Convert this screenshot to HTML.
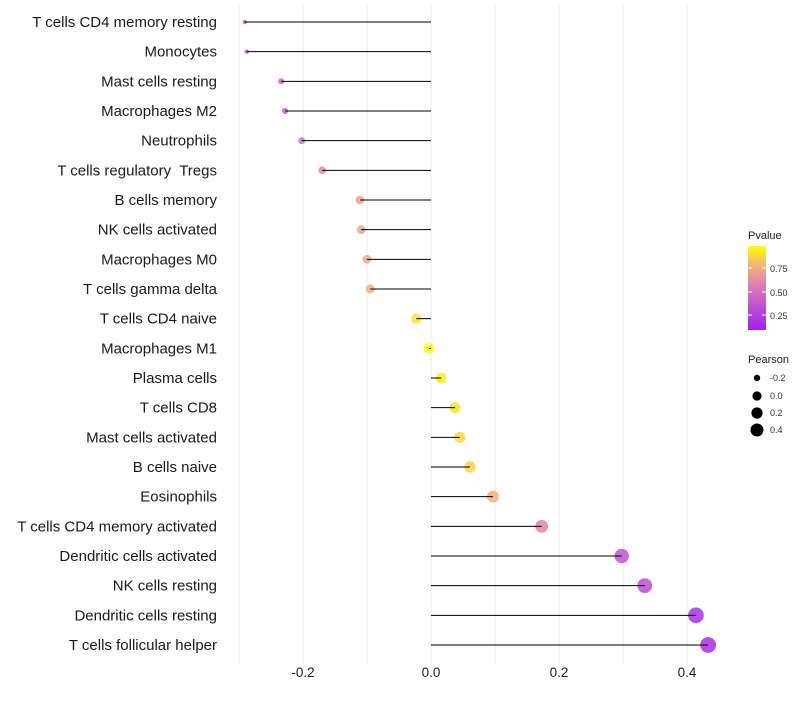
<!DOCTYPE html>
<html><head><meta charset="utf-8"><style>
body{margin:0;background:#fff;}
svg text{font-family:"Liberation Sans",sans-serif;white-space:pre;}
</style></head><body>
<svg id="chart" width="800" height="700" xmlns="http://www.w3.org/2000/svg">
<defs><linearGradient id="pg" x1="0" y1="1" x2="0" y2="0">
<stop offset="0" stop-color="#a020f0"/><stop offset="0.5" stop-color="#d878b8"/><stop offset="0.75" stop-color="#f0b080"/><stop offset="1" stop-color="#ffff00"/></linearGradient></defs>
<g id="grid"></g>
<g id="marks"></g>
<g id="ylab"></g>
<g id="xlab"></g>
<g>
<text x="748" y="239" font-size="11" fill="#222">Pvalue</text>
<rect x="748" y="246" width="18" height="84" fill="url(#pg)"/>
<line x1="748" y1="268" x2="752" y2="268" stroke="#fff"/><line x1="762" y1="268" x2="766" y2="268" stroke="#fff"/>
<line x1="748" y1="292" x2="752" y2="292" stroke="#fff"/><line x1="762" y1="292" x2="766" y2="292" stroke="#fff"/>
<line x1="748" y1="315" x2="752" y2="315" stroke="#fff"/><line x1="762" y1="315" x2="766" y2="315" stroke="#fff"/>
<text x="770" y="272" font-size="9" fill="#333">0.75</text>
<text x="770" y="296" font-size="9" fill="#333">0.50</text>
<text x="770" y="319" font-size="9" fill="#333">0.25</text>
</g>
<g>
<text x="748" y="363" font-size="11" fill="#222">Pearson</text>
<circle cx="757" cy="378" r="3.2" fill="#000"/><text x="770" y="381" font-size="9" fill="#333">-0.2</text>
<circle cx="757" cy="396" r="4.6" fill="#000"/><text x="770" y="399" font-size="9" fill="#333">0.0</text>
<circle cx="757" cy="413" r="5.6" fill="#000"/><text x="770" y="416" font-size="9" fill="#333">0.2</text>
<circle cx="757" cy="430" r="6.5" fill="#000"/><text x="770" y="433" font-size="9" fill="#333">0.4</text>
</g>
</svg>
<script>
const categories=["T cells CD4 memory resting","Monocytes","Mast cells resting","Macrophages M2","Neutrophils","T cells regulatory  Tregs","B cells memory","NK cells activated","Macrophages M0","T cells gamma delta","T cells CD4 naive","Macrophages M1","Plasma cells","T cells CD8","Mast cells activated","B cells naive","Eosinophils","T cells CD4 memory activated","Dendritic cells activated","NK cells resting","Dendritic cells resting","T cells follicular helper"];
const pearson=[-0.291,-0.288,-0.234,-0.228,-0.202,-0.170,-0.111,-0.109,-0.100,-0.095,-0.023,-0.003,0.016,0.0375,0.045,0.061,0.097,0.173,0.298,0.334,0.414,0.433];
const pvalues=[0.3,0.3,0.4,0.4,0.45,0.58,0.72,0.72,0.75,0.76,0.92,0.99,0.95,0.9,0.88,0.86,0.76,0.56,0.3,0.25,0.1,0.08];
const xTicks=[-0.2,0,0.2,0.4];
const xTickLabels=["-0.2","0.0","0.2","0.4"];
const gridVals=[-0.3,-0.2,-0.1,0,0.1,0.2,0.3,0.4];
const NS="http://www.w3.org/2000/svg";
const xs=v=>431+v*640;
const ys=i=>22+i*(623/21);
const rs=v=>Math.sqrt(Math.max(2.5,28+80*v));
function col(p){const st=[[0,[160,32,240]],[0.5,[216,120,184]],[0.75,[240,176,128]],[1,[255,255,0]]];
for(let k=0;k<st.length-1;k++){if(p<=st[k+1][0]){const t=(p-st[k][0])/(st[k+1][0]-st[k][0]);const a=st[k][1],b=st[k+1][1];return `rgb(${a.map((c,j)=>Math.round(c+(b[j]-c)*t)).join(',')})`;}}return 'rgb(255,255,0)';}
function mk(t,a,p){const e=document.createElementNS(NS,t);for(const k in a)e.setAttribute(k,a[k]);p.appendChild(e);return e;}
const grid=document.getElementById('grid'),marks=document.getElementById('marks'),yl=document.getElementById('ylab'),xl=document.getElementById('xlab');
gridVals.forEach(v=>{const l=mk('line',{x1:xs(v),x2:xs(v),y1:5,y2:663,stroke:'#ebebeb','stroke-width':1},grid);

});
categories.forEach((c,i)=>{
const y=ys(i);
const ci=mk('circle',{cx:xs(pearson[i]),cy:y,r:rs(pearson[i]),fill:col(pvalues[i]),'fill-opacity':0.85},marks);


const ln=mk('line',{x1:xs(0),x2:xs(pearson[i]),y1:y,y2:y,stroke:'#000','stroke-width':1},marks);


const t=mk('text',{x:217,y:y+5,'text-anchor':'end','font-size':15,fill:'#1a1a1a'},yl);t.textContent=c;


});
xTicks.forEach((v,i)=>{const t=mk('text',{x:xs(v),y:677,'text-anchor':'middle','font-size':13.5,fill:'#1a1a1a'},xl);t.textContent=xTickLabels[i];

});
</script>
</body></html>
